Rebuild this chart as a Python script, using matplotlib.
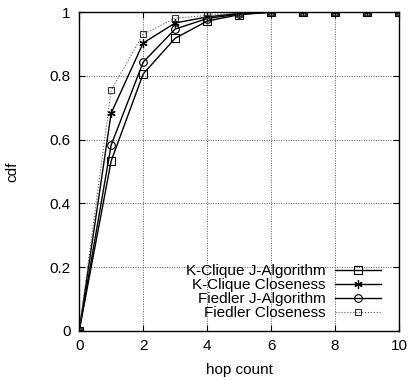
import matplotlib
matplotlib.use("Agg")
import matplotlib.pyplot as plt

plt.rcParams['font.family'] = ['Liberation Sans', 'DejaVu Sans']

hops = [0, 1, 2, 3, 4, 5, 6, 7, 8, 9, 10]
kclique_j = [0, 0.533, 0.806, 0.918, 0.972, 0.992, 1, 1, 1, 1, 1]
kclique_c = [0, 0.683, 0.903, 0.966, 0.985, 0.996, 1, 1, 1, 1, 1]
fiedler_j = [0, 0.583, 0.843, 0.947, 0.980, 0.994, 1, 1, 1, 1, 1]
fiedler_c = [0, 0.755, 0.931, 0.981, 0.990, 0.998, 1, 1, 1, 1, 1]

fig = plt.figure(figsize=(4.08, 3.8), dpi=100)
ax = fig.add_axes([0.194, 0.129, 0.784, 0.839])

ax.plot(hops, kclique_j, color='k', lw=1, marker='s', ms=5.5, mfc='none', mew=0.8,
        label='K-Clique J-Algorithm')
ax.plot(hops, kclique_c, color='k', lw=1, marker=(6, 2, 0), ms=6, mew=0.9,
        label='K-Clique Closeness')
ax.plot(hops, fiedler_j, color='k', lw=1, marker='o', ms=5.5, mfc='none', mew=0.8,
        label='Fiedler J-Algorithm')
ax.plot(hops, fiedler_c, color='#555555', lw=0.8, ls=':', marker='s', ms=3.8,
        mfc='none', mec='#333333', mew=0.8, label='Fiedler Closeness')

ax.set_xlim(0, 10)
ax.set_ylim(0, 1)
ax.set_xticks([0, 2, 4, 6, 8, 10])
ax.set_yticks([0, 0.2, 0.4, 0.6, 0.8, 1])
ax.set_yticklabels(['0', '0.2', '0.4', '0.6', '0.8', '1'])
ax.grid(True, ls=(0, (1, 1.5)), color='#555555', lw=0.7)
ax.tick_params(direction='in', top=True, right=True, labelsize=11, length=4, pad=6)
for s in ax.spines.values():
    s.set_linewidth(1)
ax.set_xlabel('hop count', fontsize=11, labelpad=7)
ax.set_ylabel('cdf', fontsize=11, labelpad=22)

ax.legend(loc='lower right', frameon=False, markerfirst=False, fontsize=11,
          handlelength=3.0, labelspacing=0.0, borderaxespad=0.6, handletextpad=0.6,
          bbox_to_anchor=(0.99, -0.015))

fig.savefig('out.png', dpi=100)
